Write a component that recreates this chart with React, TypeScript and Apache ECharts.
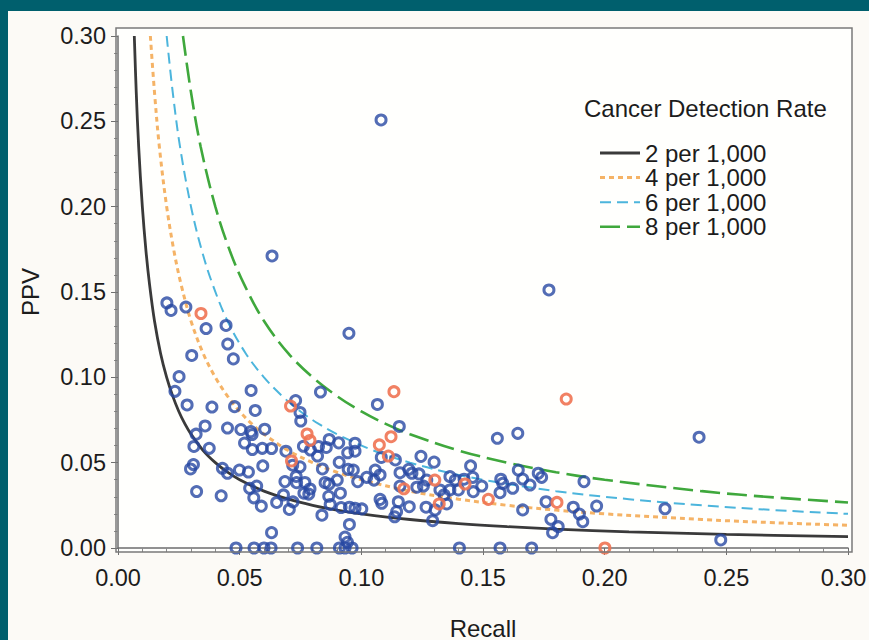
import React, { useEffect, useRef } from "react";
import * as echarts from "echarts";

const xTicks = [0, 0.05, 0.1, 0.15, 0.2, 0.25, 0.3];
const legendTitle = "Cancer Detection Rate";
const seriesNames = ["2 per 1,000", "4 per 1,000", "6 per 1,000", "8 per 1,000"];

const curve2: [number, number][] = [
  [0.0067, 0.3], [0.0075, 0.267], [0.0085, 0.235], [0.01, 0.2], [0.0115, 0.174], [0.013, 0.154],
  [0.015, 0.133], [0.0175, 0.114], [0.02, 0.1], [0.0225, 0.089], [0.025, 0.08], [0.0275, 0.0727],
  [0.03, 0.0667], [0.035, 0.0571], [0.04, 0.05], [0.045, 0.0444], [0.05, 0.04], [0.06, 0.0333],
  [0.07, 0.0286], [0.08, 0.025], [0.09, 0.0222], [0.1, 0.02], [0.12, 0.0167], [0.14, 0.0143],
  [0.16, 0.0125], [0.18, 0.0111], [0.21, 0.0095], [0.25, 0.008], [0.3, 0.0067],
];
const curve4: [number, number][] = [
  [0.0133, 0.3], [0.015, 0.267], [0.017, 0.235], [0.02, 0.2], [0.023, 0.174], [0.026, 0.154],
  [0.03, 0.133], [0.035, 0.114], [0.04, 0.1], [0.045, 0.089], [0.05, 0.08], [0.055, 0.0727],
  [0.06, 0.0667], [0.07, 0.0571], [0.08, 0.05], [0.09, 0.0444], [0.1, 0.04], [0.12, 0.0333],
  [0.14, 0.0286], [0.16, 0.025], [0.18, 0.0222], [0.2, 0.02], [0.24, 0.0167], [0.27, 0.0148],
  [0.3, 0.0133],
];
const curve6: [number, number][] = [
  [0.02, 0.3], [0.0225, 0.267], [0.0255, 0.235], [0.03, 0.2], [0.0345, 0.174], [0.039, 0.154],
  [0.045, 0.133], [0.0525, 0.114], [0.06, 0.1], [0.0675, 0.089], [0.075, 0.08], [0.0825, 0.0727],
  [0.09, 0.0667], [0.105, 0.0571], [0.12, 0.05], [0.135, 0.0444], [0.15, 0.04], [0.18, 0.0333],
  [0.21, 0.0286], [0.24, 0.025], [0.27, 0.0222], [0.3, 0.02],
];
const curve8: [number, number][] = [
  [0.0267, 0.3], [0.03, 0.267], [0.034, 0.235], [0.04, 0.2], [0.046, 0.174], [0.052, 0.154],
  [0.06, 0.133], [0.07, 0.114], [0.08, 0.1], [0.09, 0.089], [0.1, 0.08], [0.11, 0.0727],
  [0.12, 0.0667], [0.14, 0.0571], [0.16, 0.05], [0.18, 0.0444], [0.2, 0.04], [0.24, 0.0333],
  [0.27, 0.0296], [0.3, 0.0267],
];

const bluePoints: [number, number][] = [
  [0.0201, 0.1436], [0.0218, 0.1392], [0.0279, 0.1412], [0.0362, 0.1286], [0.0444, 0.1304],
  [0.0451, 0.1195], [0.0474, 0.1108], [0.0303, 0.1128], [0.0251, 0.1004], [0.0234, 0.0918],
  [0.0284, 0.0838], [0.0386, 0.0826], [0.0479, 0.0828], [0.0358, 0.0715], [0.0321, 0.0667],
  [0.045, 0.0703], [0.0312, 0.0595], [0.0375, 0.0584], [0.031, 0.0489], [0.0298, 0.0463],
  [0.0429, 0.0467], [0.045, 0.0438], [0.0323, 0.0331], [0.0424, 0.0306], [0.0547, 0.0923],
  [0.0564, 0.0806], [0.0633, 0.1711], [0.0832, 0.0914], [0.0949, 0.1258], [0.073, 0.0864],
  [0.0748, 0.0794], [0.0751, 0.0744], [0.0505, 0.0694], [0.0546, 0.0682], [0.0551, 0.0665],
  [0.0603, 0.0696], [0.052, 0.0615], [0.0552, 0.0577], [0.0593, 0.0584], [0.0631, 0.0583],
  [0.0595, 0.0481], [0.069, 0.0567], [0.0762, 0.0596], [0.0791, 0.0574], [0.082, 0.0539],
  [0.0824, 0.0595], [0.0856, 0.0589], [0.0868, 0.0636], [0.0907, 0.0616], [0.0944, 0.0558],
  [0.0974, 0.0567], [0.0974, 0.0614], [0.0718, 0.0485], [0.0748, 0.0476], [0.0499, 0.0457],
  [0.0536, 0.0445], [0.057, 0.0363], [0.0541, 0.035], [0.0686, 0.0389], [0.0732, 0.0419],
  [0.0734, 0.0383], [0.0768, 0.0384], [0.0789, 0.0346], [0.084, 0.0463], [0.0851, 0.0383],
  [0.0867, 0.0375], [0.0901, 0.0398], [0.0909, 0.0502], [0.0946, 0.0461], [0.0967, 0.0457],
  [0.0985, 0.0389], [0.0558, 0.0294], [0.0589, 0.0245], [0.0652, 0.0267], [0.068, 0.0311],
  [0.0704, 0.0226], [0.0719, 0.027], [0.0764, 0.0321], [0.0784, 0.0316], [0.0866, 0.0303],
  [0.0872, 0.0255], [0.0914, 0.0321], [0.0917, 0.0237], [0.0951, 0.0239], [0.0838, 0.0192],
  [0.0951, 0.0138], [0.0631, 0.009], [0.0933, 0.0064], [0.0943, 0.0033],
  [0.0485, 0], [0.0559, 0], [0.06, 0], [0.0629, 0], [0.0738, 0], [0.0817, 0], [0.091, 0],
  [0.0933, 0], [0.0962, 0],
  [0.1066, 0.0841], [0.1156, 0.0712], [0.1082, 0.0531], [0.114, 0.0516], [0.1245, 0.0537],
  [0.1299, 0.0503], [0.1449, 0.0481], [0.1022, 0.0414], [0.1057, 0.0457], [0.1077, 0.0428],
  [0.1052, 0.0398], [0.1159, 0.0441], [0.1195, 0.0461], [0.1208, 0.0438], [0.1237, 0.0434],
  [0.1269, 0.0398], [0.1255, 0.0363], [0.1228, 0.0356], [0.1159, 0.0363], [0.1323, 0.034],
  [0.1364, 0.0418], [0.1386, 0.0398], [0.1422, 0.0403], [0.1458, 0.0414], [0.146, 0.033],
  [0.1399, 0.034], [0.1364, 0.034], [0.134, 0.0311], [0.1351, 0.0258], [0.1303, 0.0223],
  [0.1077, 0.0285], [0.1084, 0.0262], [0.1152, 0.0271], [0.1197, 0.0242], [0.1266, 0.0239],
  [0.1145, 0.0213], [0.1137, 0.0183], [0.1293, 0.016], [0.0974, 0.0233], [0.1002, 0.0229],
  [0.1403, 0],
  [0.1559, 0.0643], [0.1643, 0.0672], [0.1645, 0.0457], [0.1727, 0.0438], [0.1741, 0.0414],
  [0.1915, 0.0389], [0.1495, 0.0363], [0.1573, 0.0403], [0.1581, 0.0379], [0.1622, 0.035],
  [0.1663, 0.0404], [0.1693, 0.0369], [0.157, 0.0324], [0.1759, 0.0271], [0.1871, 0.0239],
  [0.1967, 0.0246], [0.1663, 0.0223], [0.1896, 0.0199], [0.1779, 0.0168], [0.191, 0.0154],
  [0.1809, 0.0125], [0.1786, 0.009], [0.157, 0], [0.17, 0],
  [0.2388, 0.0649], [0.2248, 0.023], [0.2477, 0.0047], [0.1771, 0.1512], [0.1081, 0.2508],
];

const redPoints: [number, number][] = [
  [0.0341, 0.1374], [0.0709, 0.0832], [0.0777, 0.0668], [0.0789, 0.063], [0.0713, 0.051],
  [0.1134, 0.0916], [0.1122, 0.0652], [0.1074, 0.0604], [0.1111, 0.0539], [0.1302, 0.0398],
  [0.1175, 0.0347], [0.1426, 0.0375], [0.132, 0.0258], [0.1842, 0.0873], [0.1522, 0.0285],
  [0.1804, 0.0267], [0.2001, 0],
];

const FONT = "'Liberation Sans', Arial, Helvetica, sans-serif";
const TEXT = "#1c1c1c";

const lineStyles = [
  { color: "#3a3a3a", width: 2.8, dash: null as number[] | null },
  { color: "#f5b366", width: 3, dash: [5, 4] },
  { color: "#4cb5dc", width: 2, dash: [11, 6] },
  { color: "#3fa83c", width: 2.6, dash: [20, 7] },
];

export default function App() {
  const ref = useRef<HTMLDivElement>(null);
  useEffect(() => {
    if (!ref.current) return;
    const chart = echarts.init(ref.current, null, { renderer: "svg" });
    const curves = [curve2, curve4, curve6, curve8];
    const lineSeries = curves.map((data, i) => ({
      type: "line",
      name: seriesNames[i],
      data,
      showSymbol: false,
      symbol: "none",
      smooth: 0.35,
      z: 3,
      lineStyle: {
        color: lineStyles[i].color,
        width: lineStyles[i].width,
        type: lineStyles[i].dash ? lineStyles[i].dash : "solid",
      },
    }));

    const legendGraphics: any[] = [
      {
        type: "text",
        z: 70,
        x: 584,
        y: 108,
        style: { text: legendTitle, fontSize: 24, fill: TEXT, fontFamily: FONT, verticalAlign: "middle", align: "left" },
      },
    ];
    seriesNames.forEach((name, i) => {
      const y = 153 + i * 24.6;
      legendGraphics.push({
        type: "line",
        z: 70,
        shape: { x1: 600, y1: y, x2: 640, y2: y },
        style: {
          stroke: lineStyles[i].color,
          lineWidth: lineStyles[i].width,
          lineDash: lineStyles[i].dash || undefined,
        },
      });
      legendGraphics.push({
        type: "text",
        z: 70,
        x: 645,
        y,
        style: { text: name, fontSize: 24, fill: TEXT, fontFamily: FONT, verticalAlign: "middle", align: "left" },
      });
    });

    const axisCommon = {
      type: "value",
      interval: 0.05,
      nameLocation: "middle",
      nameTextStyle: { fontSize: 24, color: TEXT, fontFamily: FONT },
      axisLine: { show: true, lineStyle: { color: "#6e6e6e", width: 1.5 } },
      axisTick: { show: true, inside: false, length: 7, lineStyle: { color: "#6e6e6e", width: 1 } },
      minorTick: { show: true, splitNumber: 5, length: 4, lineStyle: { color: "#8a8a8a", width: 1 } },
      splitLine: { show: false },
    };
    const xMax = xTicks[xTicks.length - 1];

    const option: any = {
      animation: false,
      backgroundColor: "transparent",
      textStyle: { fontFamily: FONT },
      grid: { left: 118, right: 21, top: 36, bottom: 92, containLabel: false, outerBoundsMode: "none" },
      xAxis: {
        ...axisCommon,
        min: xTicks[0],
        max: xMax,
        offset: 4,
        name: "Recall",
        nameGap: 64,
        axisLabel: {
          fontSize: 23.5,
          color: TEXT,
          margin: 14,
          fontFamily: FONT,
          formatter: (v: number) => (Math.abs(v - xMax) < 1e-9 ? "{r|" + v.toFixed(2) + "}" : v.toFixed(2)),
          rich: {
            r: { fontSize: 23.5, color: TEXT, fontFamily: FONT, padding: [0, 9, 0, 0] },
          },
        },
      },
      yAxis: {
        ...axisCommon,
        min: 0,
        max: 0.3,
        offset: 2,
        name: "PPV",
        nameGap: 74,
        nameRotate: 90,
        axisLabel: {
          fontSize: 23.5,
          color: TEXT,
          margin: 10,
          fontFamily: FONT,
          formatter: (v: number) => v.toFixed(2),
        },
      },
      graphic: [
        { type: "rect", z: -10, shape: { x: 0, y: 0, width: 869, height: 640 }, style: { fill: "#fcfaf6" } },
        { type: "rect", z: -5, shape: { x: 116, y: 28, width: 736, height: 524 }, style: { fill: "#fffffd" } },
        { type: "rect", z: 50, shape: { x: 116, y: 28, width: 736, height: 524 }, style: { fill: "none", stroke: "#7a7a7a", lineWidth: 1.5 } },
        { type: "rect", z: 60, shape: { x: 0, y: 0, width: 869, height: 11 }, style: { fill: "#005f6d" } },
        { type: "rect", z: 60, shape: { x: 0, y: 0, width: 8, height: 640 }, style: { fill: "#005f6d" } },
        ...legendGraphics,
      ],
      series: [
        ...lineSeries,
        {
          type: "scatter",
          name: "blue",
          data: bluePoints,
          symbol: "circle",
          symbolSize: 10,
          z: 4,
          itemStyle: { color: "rgba(0,0,0,0)", borderColor: "#2848a2", borderWidth: 3 },
        },
        {
          type: "scatter",
          name: "red",
          data: redPoints,
          symbol: "circle",
          symbolSize: 10,
          z: 5,
          itemStyle: { color: "rgba(0,0,0,0)", borderColor: "#ef7352", borderWidth: 3, opacity: 0.9 },
        },
      ],
    };
    chart.setOption(option);
    return () => chart.dispose();
  }, []);
  return (
    <div
      ref={ref}
      style={{ position: "fixed", left: 0, top: 0, width: 869, height: 640, background: "#fcfaf6" }}
    />
  );
}
